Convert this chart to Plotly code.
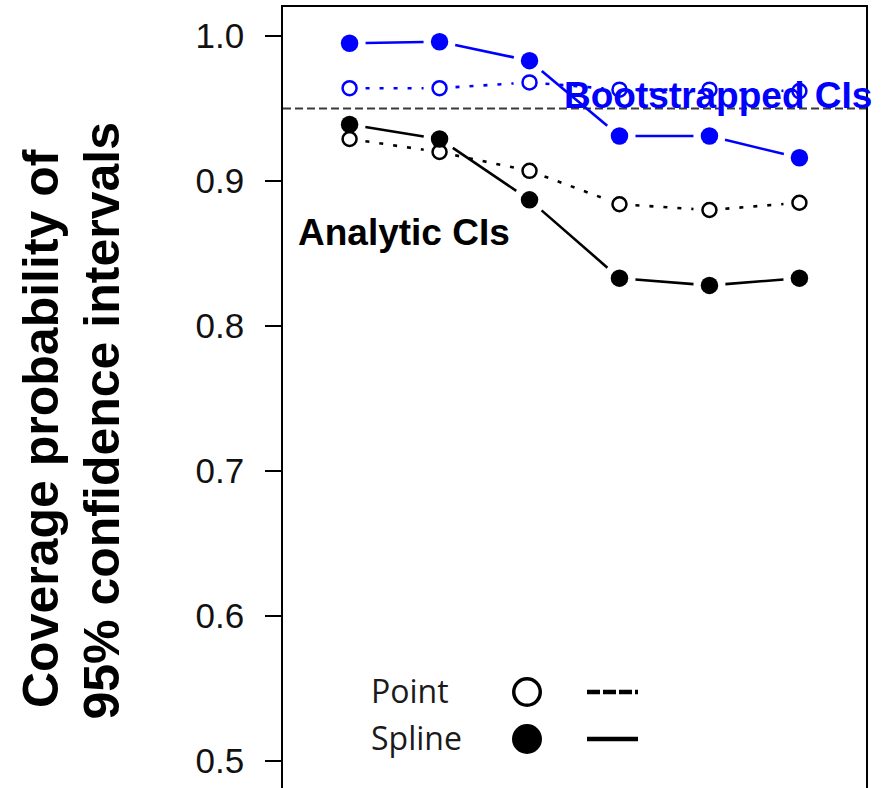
import plotly.graph_objects as go

# ---- data ----
x_vals = [1, 2, 3, 4, 5, 6]
boot_spline = [0.995, 0.996, 0.983, 0.931, 0.931, 0.916]
boot_point = [0.964, 0.964, 0.968, 0.963, 0.963, 0.962]
anal_spline = [0.939, 0.929, 0.887, 0.833, 0.828, 0.833]
anal_point = [0.929, 0.920, 0.907, 0.884, 0.880, 0.885]
ref_level = 0.95
y_ticks = [0.5, 0.6, 0.7, 0.8, 0.9, 1.0]
y_tick_text = ["0.5", "0.6", "0.7", "0.8", "0.9", "1.0"]

# ---- layout geometry ----
W, H = 894, 788
ML, MR, MT, MB = 283, 28, 7, 0
XR = [0.26, 6.74]
YR = [0.4814, 1.02]
PW = W - ML - MR
PH = H - MT - MB
SX = PW / (XR[1] - XR[0])
SY = PH / (YR[1] - YR[0])

BLUE = "#0000FF"
BLACK = "#000000"


def gapped(xs, ys, gap=16):
    """Segments between consecutive points, shortened near the points (R type='b')."""
    lx, ly = [], []
    for i in range(len(xs) - 1):
        dx = (xs[i + 1] - xs[i]) * SX
        dy = (ys[i + 1] - ys[i]) * SY
        L = (dx * dx + dy * dy) ** 0.5
        if L <= 2 * gap:
            continue
        f = gap / L
        lx += [xs[i] + (xs[i + 1] - xs[i]) * f, xs[i + 1] - (xs[i + 1] - xs[i]) * f, None]
        ly += [ys[i] + (ys[i + 1] - ys[i]) * f, ys[i + 1] - (ys[i + 1] - ys[i]) * f, None]
    return lx, ly


def px2paper_x(px):
    return (px - ML) / PW


def px2paper_y(py):
    return (H - MB - py) / PH


fig = go.Figure()

series = [
    (boot_point, BLUE, "4px,10px", False),
    (boot_spline, BLUE, "solid", True),
    (anal_point, BLACK, "4px,10px", False),
    (anal_spline, BLACK, "solid", True),
]

for ys, col, dash, filled in series:
    lx, ly = gapped(x_vals, ys)
    fig.add_trace(go.Scatter(x=lx, y=ly, mode="lines",
                             line=dict(color=col, width=2.6, dash=dash),
                             hoverinfo="skip", showlegend=False))

for ys, col, dash, filled in series:
    if filled:
        mk = dict(size=17.5, color=col, line=dict(width=0))
    else:
        mk = dict(size=14, color="white", line=dict(width=2.5, color=col))
    fig.add_trace(go.Scatter(x=x_vals, y=ys, mode="markers", marker=mk,
                             showlegend=False))

# reference line at 0.95
fig.add_shape(type="line", xref="paper", x0=0, x1=1, yref="y", y0=ref_level, y1=ref_level,
              line=dict(color="#3a3a3a", width=2, dash="8px,4px"), layer="below")

# in-plot labels
fig.add_annotation(x=5.094, y=0.9593, xref="x", yref="y", text="<b>Bootstrapped CIs</b>",
                   showarrow=False, xanchor="center", yanchor="middle",
                   font=dict(family="Liberation Sans, Arial", size=37, color=BLUE))
fig.add_annotation(x=1.60, y=0.8645, xref="x", yref="y", text="<b>Analytic CIs</b>",
                   showarrow=False, xanchor="center", yanchor="middle",
                   font=dict(family="Liberation Sans, Arial", size=37, color=BLACK))

# y-axis title (two lines)
for txt, cx, cy in [("Coverage probability of", 40.5, 428.5),
                    ("95% confidence intervals", 101.5, 421)]:
    fig.add_annotation(x=px2paper_x(cx), y=px2paper_y(cy), xref="paper", yref="paper",
                       text="<b>" + txt + "</b>", textangle=-90, showarrow=False,
                       xanchor="center", yanchor="middle",
                       font=dict(family="Liberation Sans, Arial", size=50, color=BLACK))

# custom legend
for label, cy in [("Point", 690.6), ("Spline", 737.6)]:
    fig.add_annotation(x=px2paper_x(369), y=px2paper_y(cy), xref="paper", yref="paper",
                       text=label, showarrow=False, xanchor="left", yanchor="middle",
                       font=dict(family="Open Sans", size=32, color="#1a1a1a"))

r_open = 13.25
fig.add_shape(type="circle", xref="paper", yref="paper",
              x0=px2paper_x(527 - r_open), x1=px2paper_x(527 + r_open),
              y0=px2paper_y(692 + r_open), y1=px2paper_y(692 - r_open),
              line=dict(color=BLACK, width=3.5), fillcolor="white")
r_fill = 15
fig.add_shape(type="circle", xref="paper", yref="paper",
              x0=px2paper_x(527 - r_fill), x1=px2paper_x(527 + r_fill),
              y0=px2paper_y(739 + r_fill), y1=px2paper_y(739 - r_fill),
              line=dict(color=BLACK, width=0), fillcolor=BLACK)
fig.add_shape(type="line", xref="paper", yref="paper",
              x0=px2paper_x(587), x1=px2paper_x(638),
              y0=px2paper_y(692), y1=px2paper_y(692),
              line=dict(color=BLACK, width=4.5, dash="13px,3px"))
fig.add_shape(type="line", xref="paper", yref="paper",
              x0=px2paper_x(587), x1=px2paper_x(638),
              y0=px2paper_y(739), y1=px2paper_y(739),
              line=dict(color=BLACK, width=4.5))

fig.update_layout(
    width=W, height=H,
    margin=dict(l=ML, r=MR, t=MT, b=MB, pad=0),
    paper_bgcolor="white", plot_bgcolor="white",
    showlegend=False,
    xaxis=dict(range=XR, side="top", showline=True, linecolor=BLACK, linewidth=1.5,
               showticklabels=False, ticks="", showgrid=False, zeroline=False),
    yaxis=dict(range=YR, showline=True, mirror=True, linecolor=BLACK, linewidth=1.5,
               tickvals=y_ticks, ticktext=y_tick_text, ticks="outside", ticklen=16,
               tickwidth=1.5, tickcolor=BLACK, showgrid=False, zeroline=False,
               ticklabelstandoff=14,
               tickfont=dict(family="Liberation Sans, Arial", size=35, color="#111111")),
)

fig.write_html("out.html")
